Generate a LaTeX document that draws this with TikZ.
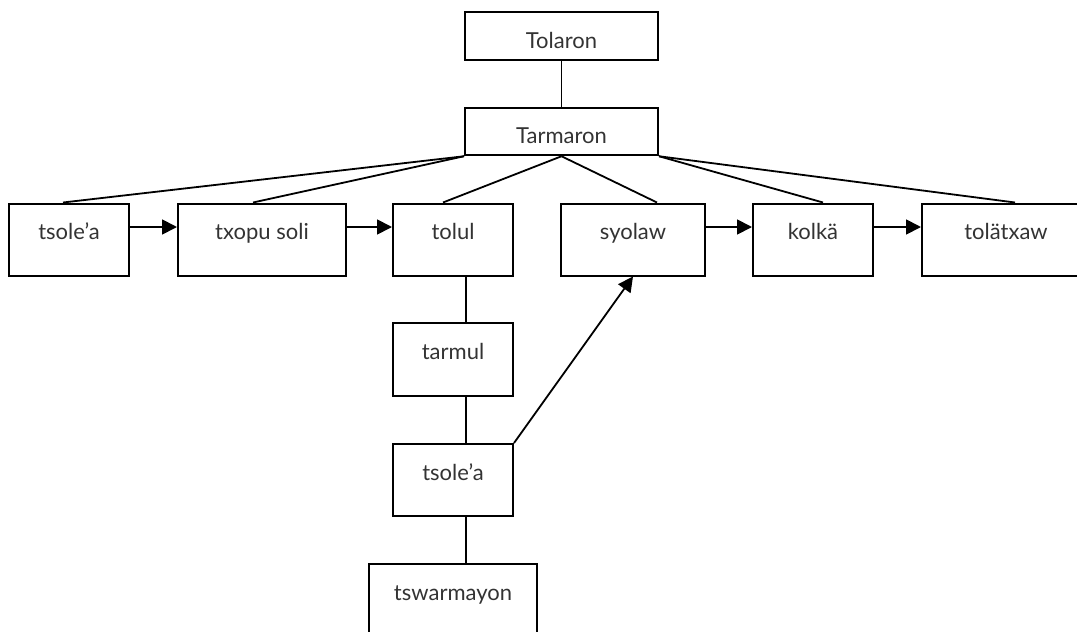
\documentclass[tikz,border=0pt]{standalone}
\usepackage{fontspec}
\setmainfont{Lato}
\usetikzlibrary{arrows.meta}
\begin{document}
\begin{tikzpicture}[x=1pt,y=-1pt,
  box/.style={draw, line width=2pt, inner sep=0pt, font=\fontsize{22}{24}\selectfont, text=black!80},
  topbox/.style={box, minimum width=193pt, minimum height=47.5pt, text height=28pt, text depth=4pt},
  rowbox/.style={box, minimum height=72pt, text height=8pt, text depth=8pt},
  link/.style={line width=1.8pt},
  arr/.style={line width=1.8pt, -{Triangle[length=15pt,width=15pt]}}]
\useasboundingbox (0,0) rectangle (1077,632);
\clip (0,0) rectangle (1077,632);
\node[topbox] (tolaron) at (561.5,36) {Tolaron};
\node[topbox] (tarmaron) at (561.5,131.5) {Tarmaron};
\node[rowbox, minimum width=120pt] (tsolea) at (69,239.5) {tsole’a};
\node[rowbox, minimum width=168pt] (txopu) at (262,239.5) {txopu soli};
\node[rowbox, minimum width=120pt] (tolul) at (453,239.5) {tolul};
\node[rowbox, minimum width=144pt] (syolaw) at (633,239.5) {syolaw};
\node[rowbox, minimum width=120pt] (kolka) at (813,239.5) {kolkä};
\node[rowbox, minimum width=168pt] (tolatxaw) at (1006,239.5) {tolätxaw};
\node[rowbox, minimum width=120pt, minimum height=73pt] (tarmul) at (453,359.5) {tarmul};
\node[rowbox, minimum width=120pt] (tsoleab) at (453,480) {tsole’a};
\node[rowbox, minimum width=168pt] (tswarmayon) at (453,600) {tswarmayon};

\draw[link] (tolaron.south) -- (tarmaron.north);
\draw[link] (tarmaron.south west) -- ([xshift=-6pt]tsolea.north);
\draw[link] (tarmaron.south west) -- ([xshift=-9pt]txopu.north);
\draw[link] (tarmaron.south) -- ([xshift=-10pt]tolul.north);
\draw[link] (tarmaron.south) -- ([xshift=24pt]syolaw.north);
\draw[link] (tarmaron.south east) -- ([xshift=10pt]kolka.north);
\draw[link] (tarmaron.south east) -- ([xshift=9pt]tolatxaw.north);

\draw[arr] ([yshift=12.5pt]tsolea.east) -- ([yshift=12.5pt]txopu.west);
\draw[arr] ([yshift=12.5pt]txopu.east) -- ([yshift=12.5pt]tolul.west);
\draw[arr] ([yshift=12.5pt]syolaw.east) -- ([yshift=12.5pt]kolka.west);
\draw[arr] ([yshift=12.5pt]kolka.east) -- ([yshift=12.5pt]tolatxaw.west);

\draw[link] ([xshift=13pt]tolul.south) -- ([xshift=13pt]tarmul.north);
\draw[link] ([xshift=13pt]tarmul.south) -- ([xshift=13pt]tsoleab.north);
\draw[link] ([xshift=13pt]tsoleab.south) -- ([xshift=13pt]tswarmayon.north);
\draw[arr] (tsoleab.north east) -- (syolaw.south);
\end{tikzpicture}
\end{document}
